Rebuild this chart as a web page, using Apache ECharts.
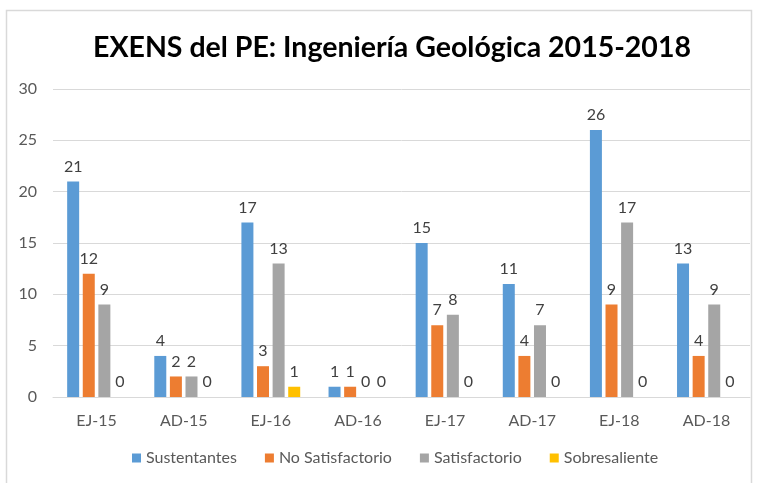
<!DOCTYPE html>
<html><head><meta charset="utf-8">
<script src="https://cdn.jsdelivr.net/npm/echarts@6/dist/echarts.min.js"></script>
<style>html,body{margin:0;padding:0;background:#fff}#c{width:759px;height:483px}</style>
</head><body><div id="c"></div>
<script>
var categories = ['EJ-15','AD-15','EJ-16','AD-16','EJ-17','AD-17','EJ-18','AD-18'];
var sustentantes = [21,4,17,1,15,11,26,13];
var noSatisfactorio = [12,2,3,1,7,4,9,4];
var satisfactorio = [9,2,13,0,8,7,17,9];
var sobresaliente = [0,0,1,0,0,0,0,0];
var seriesNames = ['Sustentantes','No Satisfactorio','Satisfactorio','Sobresaliente'];
var yTicks = [0,5,10,15,20,25,30];

var colors = ['#5B9BD5','#ED7D31','#A5A5A5','#FFC000'];
var font = 'Lato, "Noto Sans", sans-serif';
var dataSets = [sustentantes, noSatisfactorio, satisfactorio, sobresaliente];
var chart = echarts.init(document.getElementById('c'));
chart.setOption({
  animation:false,
  color: colors,
  graphic:[{type:'rect',shape:{x:6.5,y:10.5,width:745,height:490},style:{fill:'none',stroke:'#D9D9D9',lineWidth:1.5},silent:true}],
  title:{text:'EXENS del PE: Ingeniería Geológica 2015-2018',left:88,top:28,
    textStyle:{fontFamily:font,fontWeight:'bold',fontSize:28.5,color:'#000'}},
  legend:{bottom:12,left:127,itemWidth:9,itemHeight:9,itemGap:28,icon:'rect',
    textStyle:{fontFamily:font,fontSize:16,color:'#595959'},data:seriesNames},
  grid:{left:53,right:9,top:89,bottom:86},
  xAxis:{type:'category',data:categories,axisTick:{show:false},
    axisLine:{lineStyle:{color:'#D9D9D9',width:1}},
    axisLabel:{fontFamily:font,fontSize:16,color:'#595959',margin:16}},
  yAxis:{type:'value',min:yTicks[0],max:yTicks[yTicks.length-1],interval:5,
    axisLine:{show:false},axisTick:{show:false},
    splitLine:{lineStyle:{color:'#D9D9D9'}},
    axisLabel:{fontFamily:font,fontSize:16,color:'#595959',margin:16}},
  series: dataSets.map(function(d,i){return {
    name:seriesNames[i],type:'bar',data:d,barWidth:12,barGap:'30%',
    itemStyle:{color:colors[i]},
    label:{show:true,position:'top',distance:7,fontFamily:font,fontSize:16,color:'#404040'}
  };})
});
</script></body></html>
